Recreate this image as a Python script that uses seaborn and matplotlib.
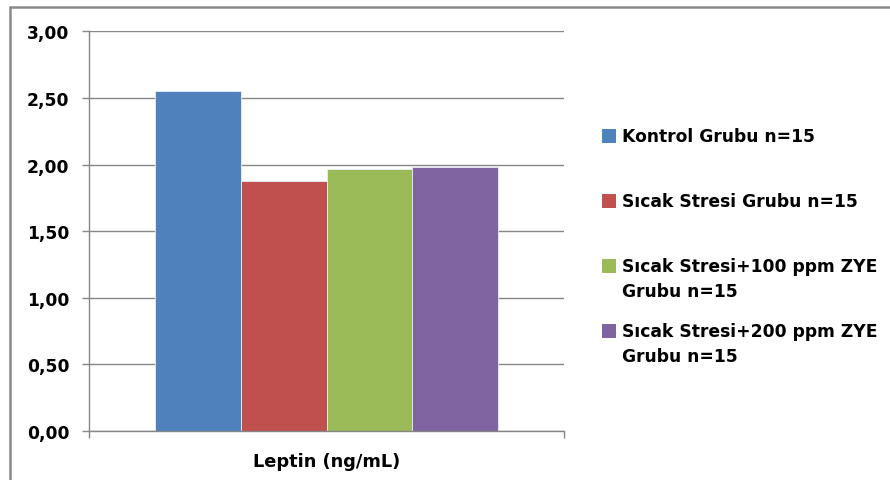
import matplotlib
matplotlib.use("Agg")
import matplotlib.pyplot as plt
import seaborn as sns
import pandas as pd
from matplotlib.lines import Line2D
from matplotlib.patches import Rectangle
from matplotlib.ticker import FuncFormatter, FixedLocator

# Data
category = ["Leptin (ng/mL)"]
groups = [
    "Kontrol Grubu n=15",
    "Sıcak Stresi Grubu n=15",
    "Sıcak Stresi+100 ppm ZYE\nGrubu n=15",
    "Sıcak Stresi+200 ppm ZYE\nGrubu n=15",
]
values = [2.55, 1.88, 1.97, 1.98]
colors = ["#4F81BD", "#C0504D", "#9BBB59", "#8064A2"]
y_ticks = [0.0, 0.5, 1.0, 1.5, 2.0, 2.5, 3.0]

sns.set_theme(style="white")
plt.rcParams["font.family"] = ["DejaVu Sans"]

W, H = 890, 481
fig = plt.figure(figsize=(W / 100, H / 100), dpi=100)
fig.patch.set_facecolor("white")

# plot area in pixel coordinates
left, right, top, bottom = 89, 564, 32.3, 432
ax = fig.add_axes([left / W, 1 - bottom / H, (right - left) / W, (bottom - top) / H])

df = pd.DataFrame({"cat": category * len(groups), "group": groups, "value": values})
sns.barplot(
    data=df, x="cat", y="value", hue="group", hue_order=groups,
    palette=colors, saturation=1, width=0.722, errorbar=None,
    edgecolor="#e8eef6", linewidth=0.6, legend=False, ax=ax,
)

grid_c = "#868686"
ax.set_xlim(-0.5, 0.5)
ax.set_ylim(0, 3.0)
ax.yaxis.set_major_locator(FixedLocator(y_ticks))
ax.yaxis.set_major_formatter(FuncFormatter(lambda v, p: f"{v:.2f}".replace(".", ",")))
ax.yaxis.grid(True, color=grid_c, linewidth=1.0)
ax.xaxis.grid(False)
ax.set_axisbelow(True)

for s in ["top", "right"]:
    ax.spines[s].set_visible(False)
for s in ["left", "bottom"]:
    ax.spines[s].set_color(grid_c)
    ax.spines[s].set_linewidth(1.0)

ax.tick_params(axis="y", which="major", length=5, width=1, color=grid_c, pad=9,
               labelsize=12.3, labelcolor="black", left=True)
for lab in ax.get_yticklabels():
    lab.set_fontweight("bold")

# category label with boundary ticks at the ends of the axis
ax.set_xticks([0])
ax.set_xticklabels(category, fontsize=12.8, fontweight="bold", color="black")
ax.tick_params(axis="x", which="major", length=0, pad=15)
ax.set_xticks([-0.5, 0.5], minor=True)
ax.tick_params(axis="x", which="minor", length=5, width=1, color=grid_c, bottom=True)
ax.set_xlabel("")
ax.set_ylabel("")

# legend to the right of the plot area
line_h = 25
first_line_y = [137, 202, 267, 332]
for lab, col, y0 in zip(groups, colors, first_line_y):
    fig.patches.append(Rectangle(((602) / W, 1 - (y0 + 7) / H), 14 / W, 14 / H,
                                 transform=fig.transFigure, facecolor=col,
                                 edgecolor="none", figure=fig))
    for i, line in enumerate(lab.split("\n")):
        fig.text(622 / W, 1 - (y0 + i * line_h) / H, line, fontsize=12.3,
                 fontweight="bold", color="black", va="center", ha="left")

# chart frame
frame_c = "#8a8a8a"
fig.add_artist(Line2D([9.5 / W, 9.5 / W], [0, 1 - 7.5 / H], transform=fig.transFigure,
                      color=frame_c, linewidth=1.8))
fig.add_artist(Line2D([9.5 / W, 1], [1 - 7.5 / H, 1 - 7.5 / H], transform=fig.transFigure,
                      color=frame_c, linewidth=1.8))

fig.savefig("out.png", dpi=100, facecolor="white")
